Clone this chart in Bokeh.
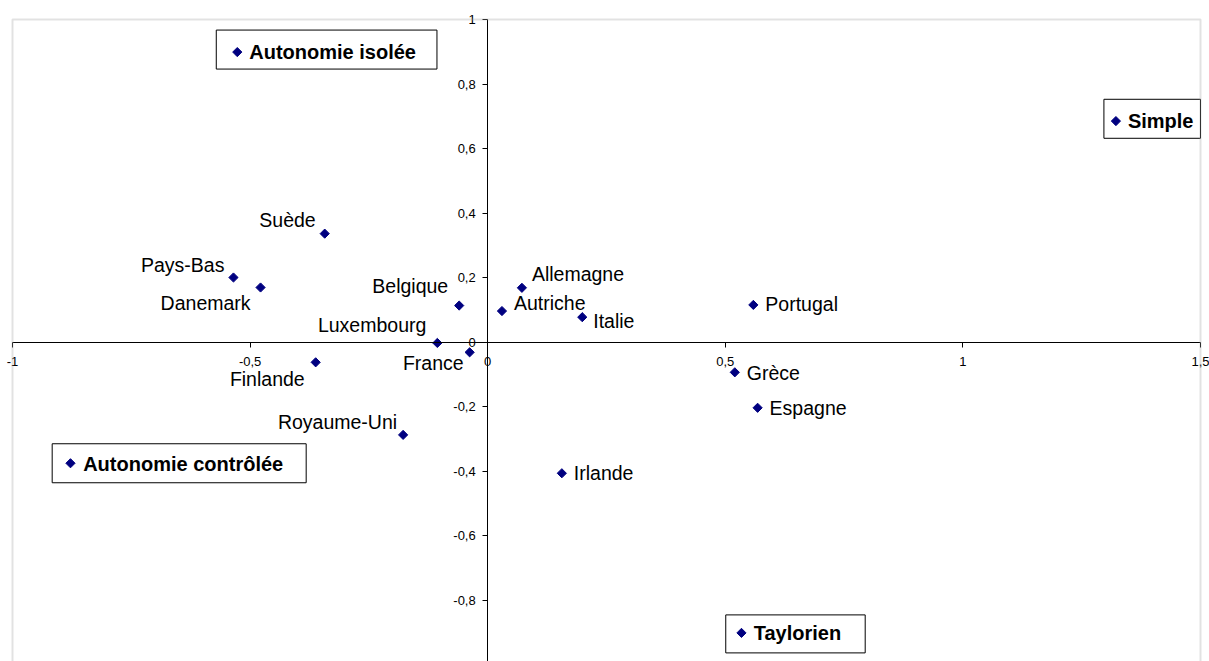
import math
from bokeh.plotting import figure
from bokeh.models import ColumnDataSource, FixedTicker, BoxAnnotation
from bokeh.core.properties import value
from bokeh.embed import file_html
from bokeh.resources import INLINE

# ---- data ----
countries = ["Suède", "Pays-Bas", "Danemark", "Belgique", "Luxembourg", "France",
             "Finlande", "Royaume-Uni", "Allemagne", "Autriche", "Italie",
             "Portugal", "Grèce", "Espagne", "Irlande"]
x_vals = [-0.343, -0.535, -0.478, -0.060, -0.106, -0.038, -0.362, -0.178,
          0.072, 0.030, 0.199, 0.559, 0.520, 0.568, 0.156]
y_vals = [0.336, 0.200, 0.169, 0.113, -0.003, -0.032, -0.063, -0.288,
          0.168, 0.096, 0.077, 0.115, -0.094, -0.204, -0.407]

types = ["Autonomie isolée", "Simple", "Autonomie contrôlée", "Taylorien"]
type_x = [-0.527, 1.322, -0.878, 0.534]
type_y = [0.899, 0.685, -0.376, -0.902]

x_ticks = [-1.0, -0.5, 0.0, 0.5, 1.0, 1.5]
x_tick_labels = ["-1", "-0,5", "0", "0,5", "1", "1,5"]
y_ticks = [-1.0, -0.8, -0.6, -0.4, -0.2, 0.0, 0.2, 0.4, 0.6, 0.8, 1.0]
y_tick_labels = ["-1", "-0,8", "-0,6", "-0,4", "-0,2", "0", "0,2", "0,4", "0,6", "0,8", "1"]

# ---- label placement (style, in screen pixels) ----
label_style = {
    "Suède": ("right", -9, -13.5),
    "Pays-Bas": ("right", -9, -12.5),
    "Danemark": ("right", -10, 15.5),
    "Belgique": ("right", -11, -19.5),
    "Luxembourg": ("right", -11, -17.5),
    "France": ("right", -6, 11),
    "Finlande": ("right", -11, 16.5),
    "Royaume-Uni": ("right", -6, -12.5),
    "Allemagne": ("left", 10, -14),
    "Autriche": ("left", 12, -8.5),
    "Italie": ("left", 11, 4),
    "Portugal": ("left", 12, -0.5),
    "Grèce": ("left", 12, 0.5),
    "Espagne": ("left", 12, 0.5),
    "Irlande": ("left", 12, 0),
}
box_style = {
    "Autonomie isolée": dict(xo=-21, yo=-2.5, pad=dict(left=33, right=21, top=11, bottom=6)),
    "Simple": dict(xo=-12, yo=-2.3, pad=dict(left=24, right=7, top=11, bottom=6)),
    "Autonomie contrôlée": dict(xo=-18.3, yo=0, pad=dict(left=31, right=23, top=9, bottom=8)),
    "Taylorien": dict(xo=-15.7, yo=1, pad=dict(left=28, right=24, top=7, bottom=9)),
}

NAVY = "#000080"
FONT = "Liberation Sans"

# plot-area geometry (pixels): x=-1 at 12px, x=1.5 at 1200px; y=1 at 19px, 322.5 px per unit
XPX = 1188 / 2.5
YPX = 322.5
x_lo, x_hi = x_ticks[0], x_ticks[-1]
y_lo, y_hi = y_ticks[0], y_ticks[-1]
x_range = (x_lo - 12 / XPX, x_hi + 9 / XPX)
y_range = (y_hi - 642 / YPX, y_hi + 19 / YPX)

p = figure(width=1209, height=661, x_range=x_range, y_range=y_range,
           output_backend="svg", toolbar_location=None,
           min_border_top=0, min_border_bottom=0, min_border_left=0, min_border_right=0)
p.grid.visible = False
p.outline_line_color = None
p.background_fill_color = "white"
p.border_fill_color = "white"

for ax, ticks, labels in ((p.xaxis[0], x_ticks, x_tick_labels), (p.yaxis[0], y_ticks, y_tick_labels)):
    ax.fixed_location = 0
    ax.bounds = (ticks[0], ticks[-1])
    ax.ticker = FixedTicker(ticks=ticks)
    ax.major_label_overrides = {t: l for t, l in zip(ticks, labels)}
    ax.major_tick_in = 0
    ax.major_tick_out = 5
    ax.minor_tick_in = 0
    ax.minor_tick_out = 0
    ax.axis_line_color = "black"
    ax.axis_line_width = 1
    ax.major_tick_line_color = "black"
    ax.major_label_text_font = FONT
    ax.major_label_text_font_size = "13px"
    ax.major_label_text_color = "black"
p.xaxis.major_label_standoff = 10
p.yaxis.major_label_standoff = 7

# boxed type labels
for name, tx, ty in zip(types, type_x, type_y):
    st = box_style[name]
    p.text(x=[tx], y=[ty], text=[name], x_offset=st["xo"], y_offset=st["yo"],
           text_baseline="middle", text_align="left", text_font=value(FONT),
           text_font_size="20px", text_font_style="bold", text_color="black",
           border_line_color="black", border_line_width=1,
           background_fill_color="white", padding=st["pad"])

p.scatter(type_x, type_y, marker="square", size=6.5, angle=math.pi / 4,
          fill_color=NAVY, line_color=NAVY)

# countries
src = ColumnDataSource(dict(
    x=x_vals, y=y_vals, name=countries,
    align=[label_style[c][0] for c in countries],
    xo=[label_style[c][1] for c in countries],
    yo=[label_style[c][2] for c in countries],
))
p.scatter("x", "y", source=src, marker="square", size=6.5, angle=math.pi / 4,
          fill_color=NAVY, line_color=NAVY)
p.text("x", "y", text="name", source=src, x_offset="xo", y_offset="yo",
       text_align="align", text_baseline="middle", text_font=value(FONT),
       text_font_size="19.5px", text_color="black")

# plot-area border (grey, Excel-like)
p.add_layout(BoxAnnotation(left=x_lo, right=x_hi, top=y_hi, bottom=y_lo,
                           fill_alpha=0, line_color="#a0a0a0", line_width=2))

open("out.html", "w").write(file_html(p, INLINE))
